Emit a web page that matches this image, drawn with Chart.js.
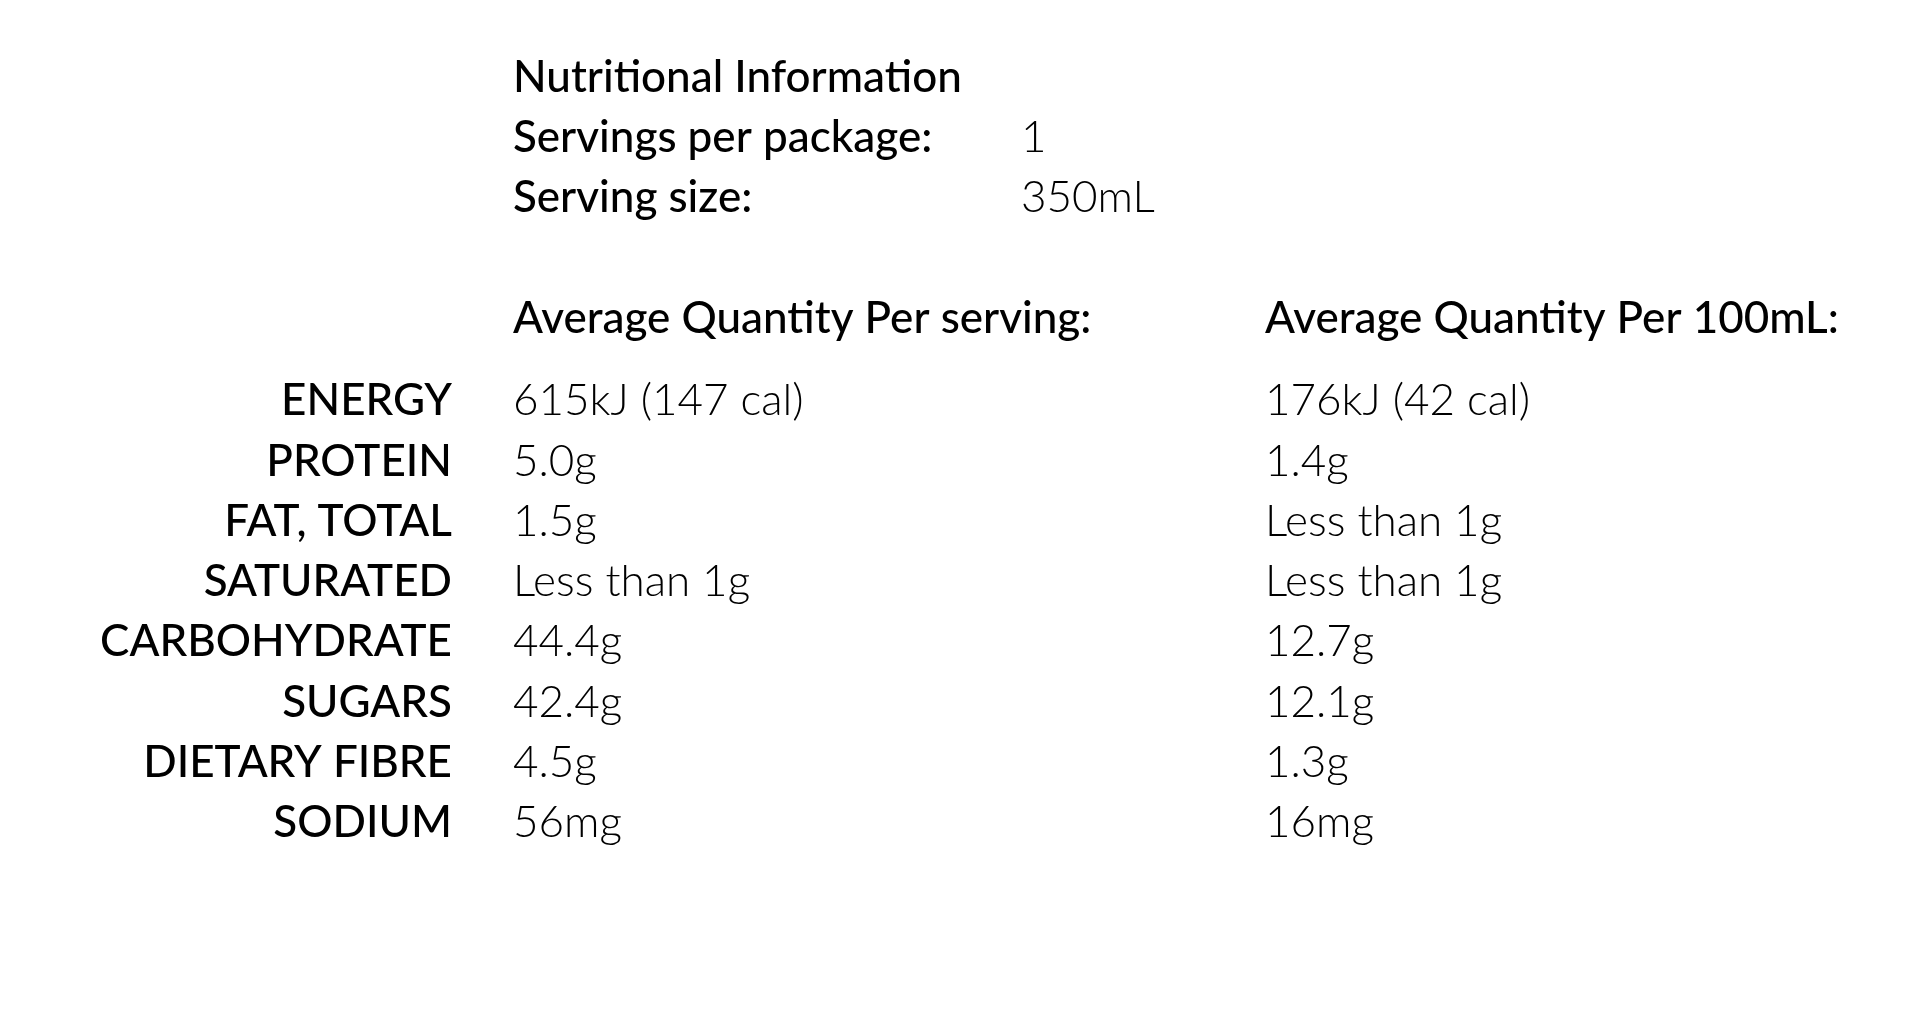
<!DOCTYPE html>
<html>
<head>
<meta charset="utf-8">
<script src="https://cdn.jsdelivr.net/npm/chart.js@4"></script>
<style>
  html, body { margin: 0; padding: 0; background: #fff; }
  #wrap { width: 1909px; height: 1017px; }
</style>
</head>
<body>
<div id="wrap"><canvas id="nutritionChart"></canvas></div>
<script>
const nutrients = ['ENERGY', 'PROTEIN', 'FAT, TOTAL', 'SATURATED', 'CARBOHYDRATE', 'SUGARS', 'DIETARY FIBRE', 'SODIUM'];
const perServing = ['615kJ (147 cal)', '5.0g', '1.5g', 'Less than 1g', '44.4g', '42.4g', '4.5g', '56mg'];
const per100mL = ['176kJ (42 cal)', '1.4g', 'Less than 1g', 'Less than 1g', '12.7g', '12.1g', '1.3g', '16mg'];
const headerLines = [
    ['Nutritional Information', ''],
    ['Servings per package:', '1'],
    ['Serving size:', '350mL'],
];
const columnHeads = ['Average Quantity Per serving:', 'Average Quantity Per 100mL:'];

// draws the header block and value columns, rows placed by the y scale
const tableText = {
    id: 'tableText',
    afterDraw: (chart) => {
        const ctx = chart.ctx;
        const y = chart.scales.y;
        const col1 = 513, col2 = 1265, colVal = 1021;
        ctx.save();
        ctx.fillStyle = '#000';
        ctx.textBaseline = 'middle';
        ctx.textAlign = 'left';
        const headY = [78, 138, 198];
        headerLines.forEach((line, i) => {
            ctx.font = '500 44px Lato';
            ctx.fillText(line[0], col1, headY[i]);
            ctx.font = '300 44px Lato';
            ctx.fillText(line[1], colVal, headY[i]);
        });
        ctx.font = '500 44px Lato';
        ctx.fillText(columnHeads[0], col1, 319);
        ctx.fillText(columnHeads[1], col2, 319);
        ctx.font = '300 44px Lato';
        nutrients.forEach((n, i) => {
            const py = y.getPixelForValue(i);
            ctx.fillText(perServing[i], col1, py);
            ctx.fillText(per100mL[i], col2, py);
        });
        ctx.restore();
    },
};

const myChart = new Chart(document.getElementById('nutritionChart'), {
    type: 'bar',
    data: {
        labels: nutrients,
        datasets: [{ data: nutrients.map(() => 0) }],
    },
    options: {
        indexAxis: 'y',
        responsive: true,
        maintainAspectRatio: false,
        animation: false,
        layout: { padding: { top: 371, bottom: 164, left: 0, right: 20 } },
        plugins: { legend: { display: false }, tooltip: { enabled: false } },
        scales: {
            x: { display: false, min: 0, max: 1 },
            y: {
                grid: { display: false, drawBorder: false },
                border: { display: false },
                afterFit: (scale) => { scale.width = 470; },
                ticks: {
                    color: '#000',
                    padding: 10,
                    font: { family: 'Lato', size: 44, weight: '500' },
                },
            },
        },
    },
    plugins: [tableText],
});
</script>
</body>
</html>
